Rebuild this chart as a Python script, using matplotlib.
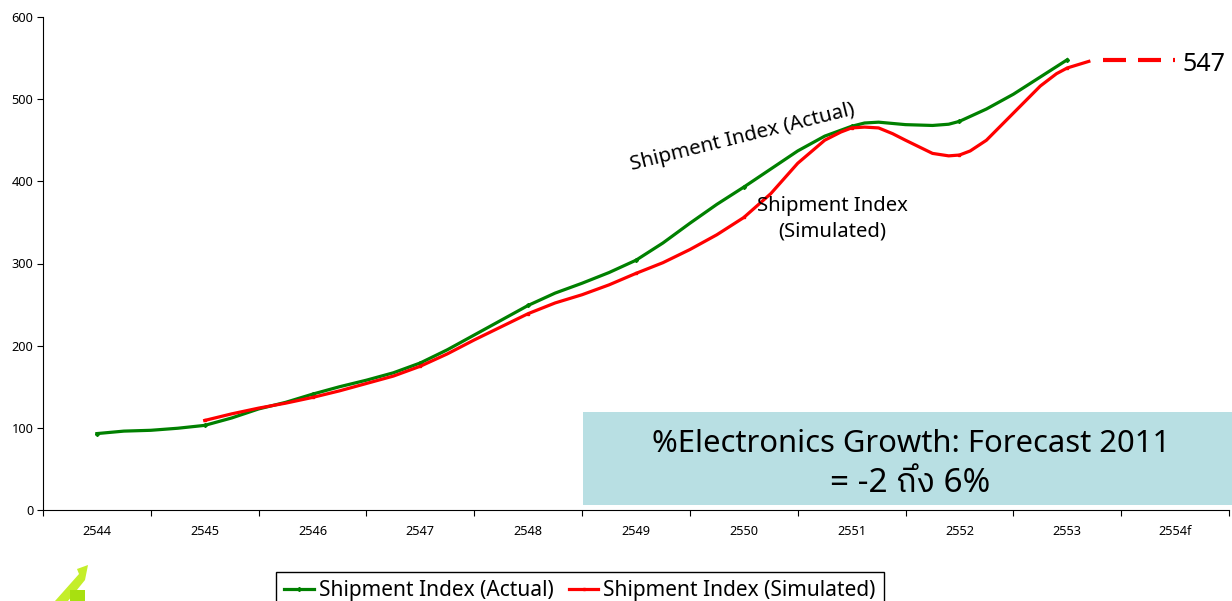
import matplotlib
matplotlib.use('Agg')
import matplotlib.pyplot as plt
from matplotlib.patches import Rectangle, Polygon

plt.rcParams['font.family'] = ['Noto Sans', 'IBM Plex Sans Thai', 'DejaVu Sans']

category_labels = ['2544', '2545', '2546', '2547', '2548', '2549', '2550', '2551', '2552', '2553', '2554f']

actual_x = [0, .25, .5, .75, 1, 1.25, 1.5, 1.75, 2, 2.25, 2.5, 2.75, 3, 3.25, 3.5, 3.75, 4, 4.25, 4.5, 4.75,
            5, 5.25, 5.5, 5.75, 6, 6.25, 6.5, 6.75, 7, 7.12, 7.25, 7.5, 7.75, 7.9, 8, 8.25, 8.5, 8.75, 9]
actual_y = [93, 96, 97, 99.5, 103, 112, 123, 131, 141, 150, 158, 167, 179, 195, 213, 231, 249, 264, 276, 289,
            304, 325, 349, 372, 393, 415, 437, 455, 467, 471, 472, 469, 468, 469.5, 473, 488, 506, 527, 548]

sim_x = [1, 1.25, 1.5, 1.75, 2, 2.25, 2.5, 2.75, 3, 3.25, 3.5, 3.75, 4, 4.25, 4.5, 4.75,
         5, 5.25, 5.5, 5.75, 6, 6.25, 6.5, 6.75, 6.9, 7, 7.12, 7.25, 7.38, 7.5, 7.75, 7.9, 8, 8.1, 8.25, 8.5, 8.75, 8.9, 9, 9.1, 9.2]
sim_y = [109, 117, 124, 130, 137, 145, 154, 163, 175, 190, 207, 223, 239, 252, 262, 274,
         288, 301, 317, 335, 356, 385, 422, 450, 460, 465, 466, 465, 458, 450, 434, 431, 432, 437, 450, 483, 516, 531, 538, 542, 546]

forecast_x = [9.33, 10]
forecast_y = [548, 548]

W, H = 1232, 601
fig = plt.figure(figsize=(W / 100, H / 100), dpi=100)
ax = fig.add_axes([43 / W, 1 - 510 / H, (1229 - 43) / W, (510 - 17) / H])

green = '#008000'
red = '#ff0000'
# markers only sit on the whole years
actual_marks = [i for i, v in enumerate(actual_x) if v == int(v)]
sim_marks = [i for i, v in enumerate(sim_x) if v == int(v)]
ax.plot(actual_x, actual_y, color=green, lw=2.3, marker='D', ms=2, markevery=actual_marks,
        label='Shipment Index (Actual)', zorder=3)
ax.plot(sim_x, sim_y, color=red, lw=2.3, marker='s', ms=2, markevery=sim_marks,
        label='Shipment Index (Simulated)', zorder=4)
ax.plot(forecast_x, forecast_y, color=red, lw=3, dashes=(23 * .72 / 3, 12 * .72 / 3), dash_capstyle='butt', zorder=4)

ax.set_xlim(-0.5, 10.5)
ax.set_ylim(0, 600)
ax.spines['top'].set_visible(False)
ax.spines['right'].set_visible(False)
ax.set_yticks(range(0, 601, 100))
ax.set_xticks([i - 0.5 for i in range(12)])
ax.set_xticklabels([])
ax.set_xticks(range(11), minor=True)
ax.set_xticklabels(category_labels, minor=True)
ax.tick_params(axis='x', which='minor', length=0, labelsize=9.2, pad=11)
ax.tick_params(axis='x', which='major', length=4)
ax.tick_params(axis='y', length=4, labelsize=9.2, pad=3)

# teal box, in figure pixels
fig.add_artist(Rectangle((583 / W, 1 - 505 / H), (W - 583) / W, 93 / H, transform=fig.transFigure,
                         facecolor='#b8dfe3', edgecolor='none'))
fig.text(911 / W, 1 - 452 / H, '%Electronics Growth: Forecast 2011', fontsize=22.3, ha='center', va='baseline')
fig.text(910 / W, 1 - 492 / H, '= -2 ถึง 6%', fontsize=24, ha='center', va='baseline')

fig.text(1182 / W, 1 - 71 / H, '547', fontsize=18, ha='left', va='baseline')
fig.text(743 / W, 1 - 137 / H, 'Shipment Index (Actual)', fontsize=14.8, rotation=14, ha='center', va='center',
         rotation_mode='anchor')
fig.text(832 / W, 1 - 219 / H, 'Shipment Index\n(Simulated)', fontsize=14.6, ha='center', va='center', linespacing=1.35)

# logo scrap at the bottom
fig.add_artist(Polygon([(55 / W, 0), (79 / W, 1 - 574 / H), (77 / W, 1 - 569 / H), (88 / W, 1 - 565 / H),
                        (85 / W, 1 - 580 / H), (68 / W, 0)],
                       closed=True, transform=fig.transFigure, facecolor='#c4ee2a', edgecolor='none'))
fig.add_artist(Rectangle((70 / W, 0), 15 / W, 11 / H, transform=fig.transFigure, facecolor='#a8e010', edgecolor='none'))

fig.legend(loc='upper left', bbox_to_anchor=(276 / W, 1 - 572 / H), borderaxespad=0, ncols=2, fontsize=15,
           frameon=True, fancybox=False, edgecolor='black', framealpha=1, handlelength=1.4,
           handletextpad=0.25, columnspacing=0.75, borderpad=0.4)

fig.savefig('out.png', dpi=100)
